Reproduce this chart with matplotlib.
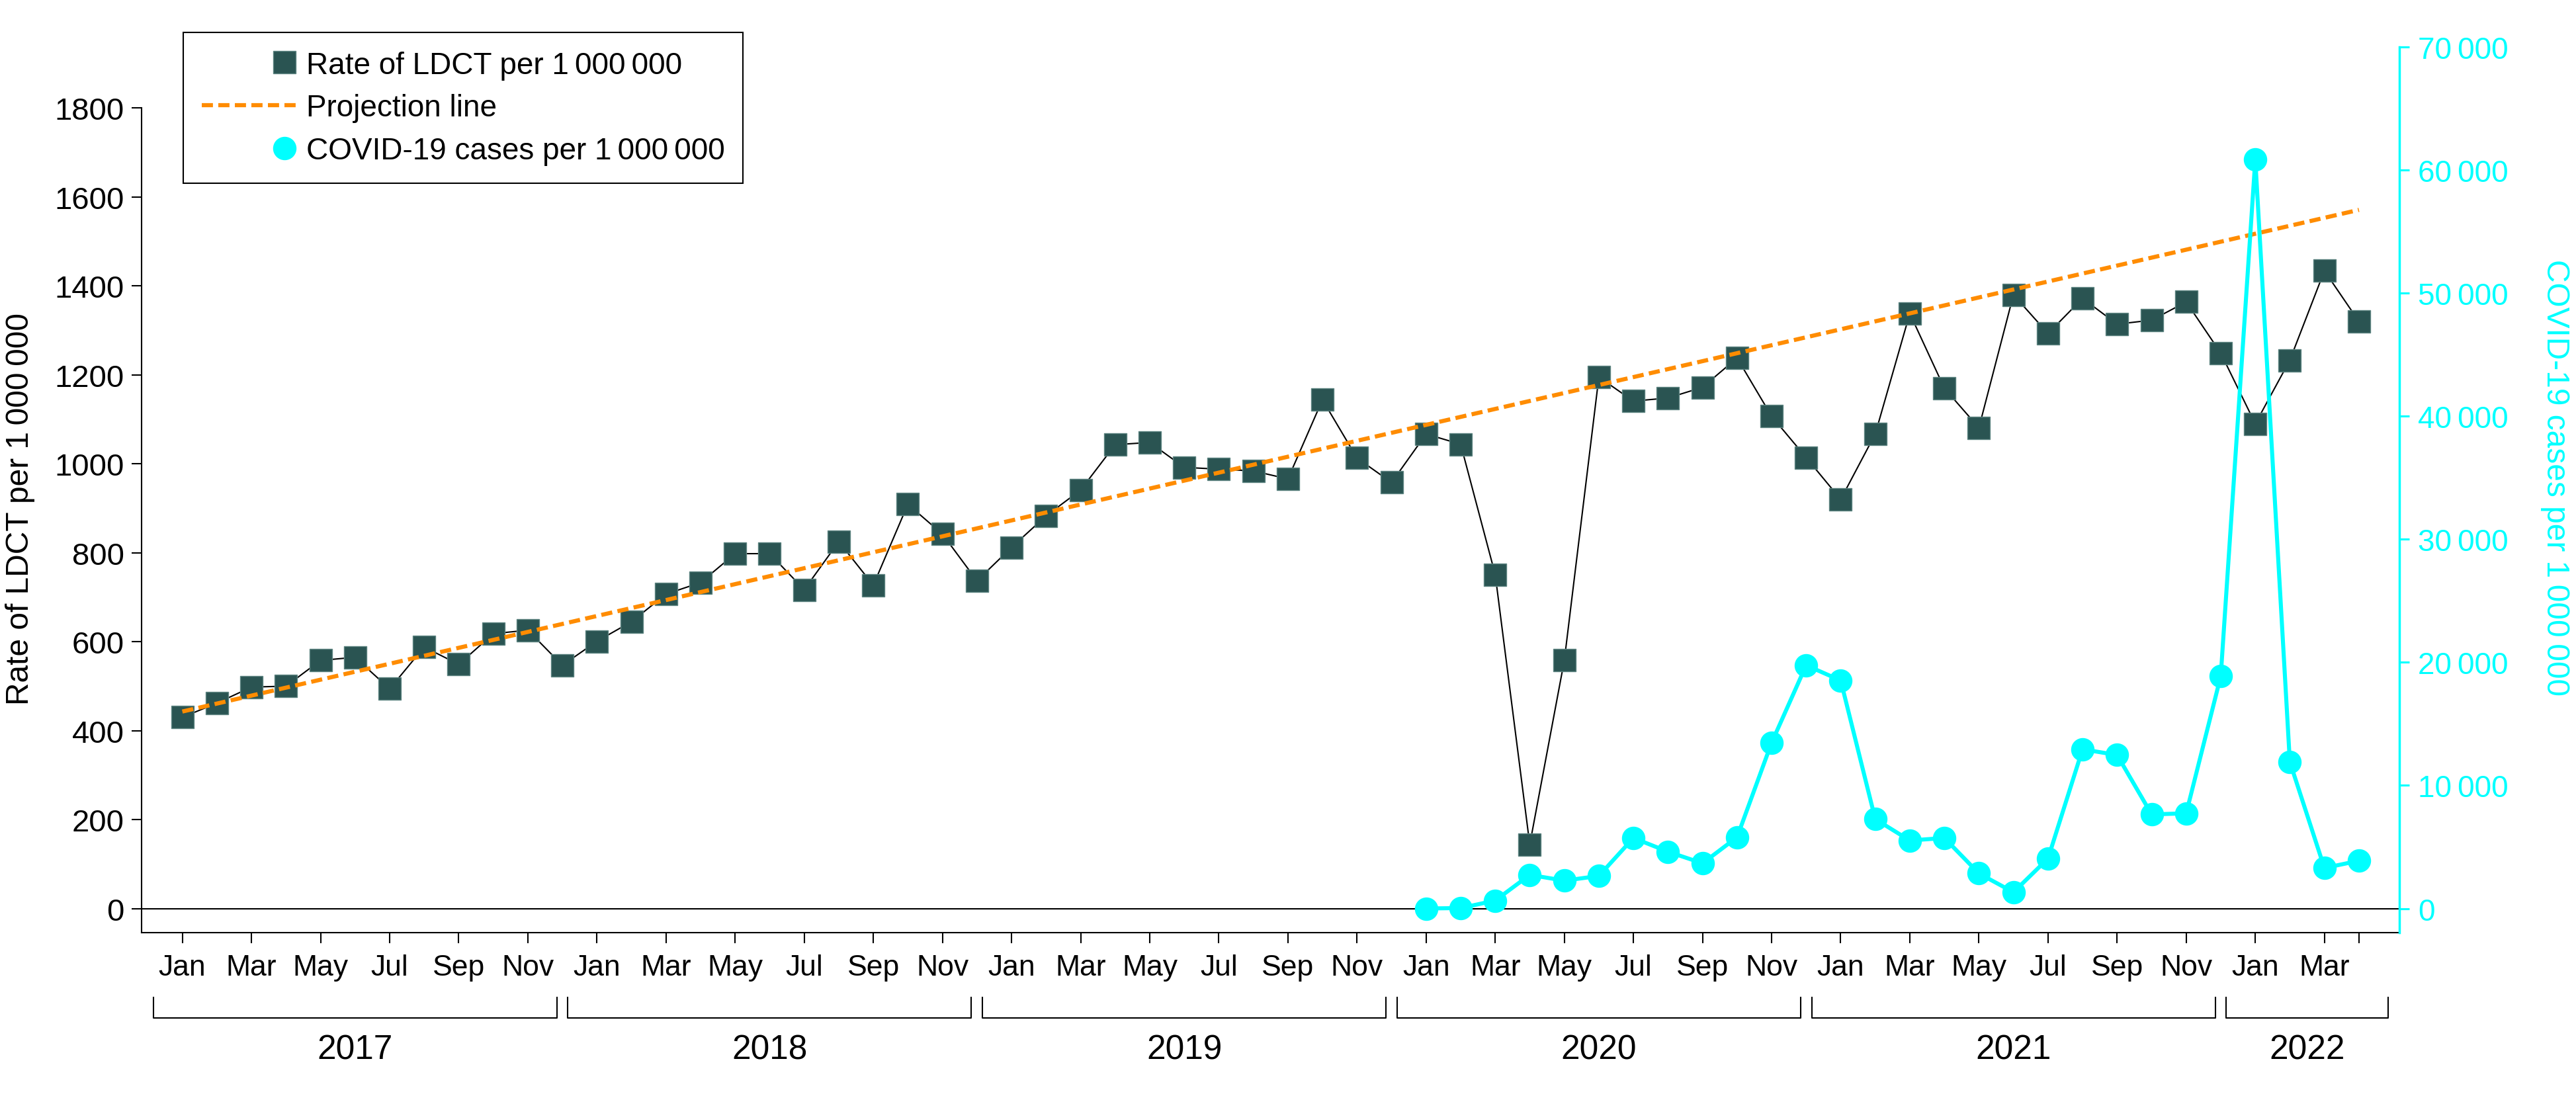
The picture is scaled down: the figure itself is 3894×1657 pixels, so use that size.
import numpy as np
import matplotlib

matplotlib.use("Agg")
import matplotlib.pyplot as plt
from matplotlib.lines import Line2D
from matplotlib.legend_handler import HandlerLine2DCompound
from matplotlib.transforms import blended_transform_factory

plt.rcParams["font.family"] = ["Liberation Sans", "DejaVu Sans"]

# data, monthly Jan 2017 - Apr 2022
years = [2017, 2018, 2019, 2020, 2021, 2022]
months_per_year = [12, 12, 12, 12, 12, 4]
month_names = ["Jan", "Feb", "Mar", "Apr", "May", "Jun",
               "Jul", "Aug", "Sep", "Oct", "Nov", "Dec"]

ldct_rate = [
    430, 462, 498, 500, 558, 565, 494, 588, 549, 618, 626, 547,        # 2017
    601, 645, 707, 733, 798, 798, 717, 825, 727, 909, 842, 737,        # 2018
    812, 883, 941, 1043, 1048, 992, 988, 984, 966, 1144, 1013, 958,    # 2019
    1067, 1044, 751, 144, 558, 1195, 1141, 1148, 1172, 1238, 1107, 1014,  # 2020
    920, 1067, 1338, 1170, 1081, 1380, 1293, 1372, 1314, 1323, 1364, 1249,  # 2021
    1090, 1233, 1434, 1320,                                            # 2022
]

covid_start = 36  # Jan 2020
covid_cases = [
    5, 40, 650, 2735, 2267, 2649, 5733, 4620, 3675, 5792, 13469, 19761,      # 2020
    18525, 7264, 5528, 5733, 2853, 1327, 4062, 12937, 12470, 7645, 7737, 18874,  # 2021
    60840, 11911, 3293, 3884,                                               # 2022
]

proj_start = 443
proj_end = 1571

SQ_COLOR = "#2a5452"
SQ_EDGE = "#5e8582"
ORANGE = "#ff8c00"
CYAN = "#00ffff"
THIN = "\u2009"


class RightMarkerHandler(HandlerLine2DCompound):
    """legend marker sits at the right end of the handle"""

    def get_xdata(self, legend, xdescent, ydescent, width, height, fontsize):
        xdata, _ = super().get_xdata(legend, xdescent, ydescent, width, height, fontsize)
        return xdata, np.array([width - xdescent - 12.3])


x = np.arange(len(ldct_rate))
cx = x[covid_start:covid_start + len(covid_cases)]

fig = plt.figure(figsize=(38.94, 16.58), dpi=100)
ax = fig.add_axes([214 / 3894, 1 - 1411 / 1658, (3627 - 214) / 3894, (1411 - 71.7) / 1658])
ax2 = ax.twinx()

ax.axhline(0, color="black", lw=1.5, zorder=1)
ax.plot(x, ldct_rate, color="black", lw=1.5, marker="s", ms=24.5,
        mfc=SQ_COLOR, mec=SQ_EDGE, mew=1, zorder=2)
ax.plot([x[0], x[-1]], [proj_start, proj_end], color=ORANGE, lw=4.5,
        dashes=(2.7, 1.3), zorder=3)

ax2.plot(cx, covid_cases, color=CYAN, lw=4.4, marker="o", ms=24.5, mec=CYAN, mfc=CYAN)

# axes limits / spines
ax.set_xlim(-1.18, 64.17)
ax.set_ylim(-54.1, 1937.7)
ax2.set_ylim(-1955.6, 70000)

for s in ["top", "right"]:
    ax.spines[s].set_visible(False)
for s in ["top", "left", "bottom"]:
    ax2.spines[s].set_visible(False)
ax.spines["left"].set_bounds(-54.1, 1800)
ax.spines["left"].set_linewidth(1.5)
ax.spines["bottom"].set_linewidth(1.5)
ax2.spines["right"].set_color(CYAN)
ax2.spines["right"].set_linewidth(2.5)

ax.set_yticks(range(0, 1801, 200))
ax.tick_params(axis="y", length=10.8, width=1.5, pad=8, labelsize=34)

tick_idx = list(range(0, len(ldct_rate), 2)) + [len(ldct_rate) - 1]
tick_lab = [month_names[i % 12] for i in range(0, len(ldct_rate), 2)] + [""]
ax.set_xticks(tick_idx)
ax.set_xticklabels(tick_lab)
ax.tick_params(axis="x", length=11.8, width=1.5, pad=11, labelsize=32)

r_ticks = list(range(0, 70001, 10000))
ax2.set_yticks(r_ticks)
ax2.set_yticklabels([f"{v:,}".replace(",", THIN) for v in r_ticks])
ax2.tick_params(axis="y", colors=CYAN, length=11, width=2.2, pad=9, labelsize=33)

# axis titles
fig.text(31 / 3894, 1 - 769 / 1658, f"Rate of LDCT per 1{THIN}000{THIN}000",
         rotation=90, ha="center", va="center", fontsize=34.5)
fig.text(3862 / 3894, 1 - 722 / 1658, f"COVID-19 cases per 1{THIN}000{THIN}000",
         rotation=270, ha="center", va="center", fontsize=34.5, color=CYAN)

# year brackets under the month labels
trans = blended_transform_factory(ax.transData, ax.transAxes)
starts = np.cumsum([0] + months_per_year[:-1])
for i, yr in enumerate(years):
    left = starts[i] - 0.84
    if i < len(years) - 1:
        right = starts[i + 1] - 1.16
    else:
        right = starts[i] + months_per_year[i] - 1 + 0.84
    ax.plot([left, left, right, right], [-0.0729, -0.0962, -0.0962, -0.0729],
            color="black", lw=1.5, transform=trans, clip_on=False)
    ax.text((left + right) / 2, -0.1322, str(yr), transform=trans,
            ha="center", va="center", fontsize=37)

# legend
h1 = Line2D([], [], ls="none", marker="s", ms=24.5, mfc=SQ_COLOR, mec=SQ_EDGE, mew=1)
h2 = Line2D([], [], color=ORANGE, lw=4.5, dashes=(2.7, 1.3))
h3 = Line2D([], [], ls="none", marker="o", ms=24.5, mfc=CYAN, mec=CYAN)
leg = fig.legend(
    [h1, h2, h3],
    [f"Rate of LDCT per 1{THIN}000{THIN}000", "Projection line",
     f"COVID-19 cases per 1{THIN}000{THIN}000"],
    handler_map={h1: RightMarkerHandler(), h3: RightMarkerHandler()},
    loc="upper left", bbox_to_anchor=(277 / 3894, 1 - 50 / 1658),
    borderaxespad=0, fontsize=33, handlelength=3.1, handletextpad=0.35,
    borderpad=0.6, labelspacing=0.45, fancybox=False, framealpha=1,
    edgecolor="black",
)
leg.get_frame().set_linewidth(1.5)

fig.savefig("out.png", dpi=100)
